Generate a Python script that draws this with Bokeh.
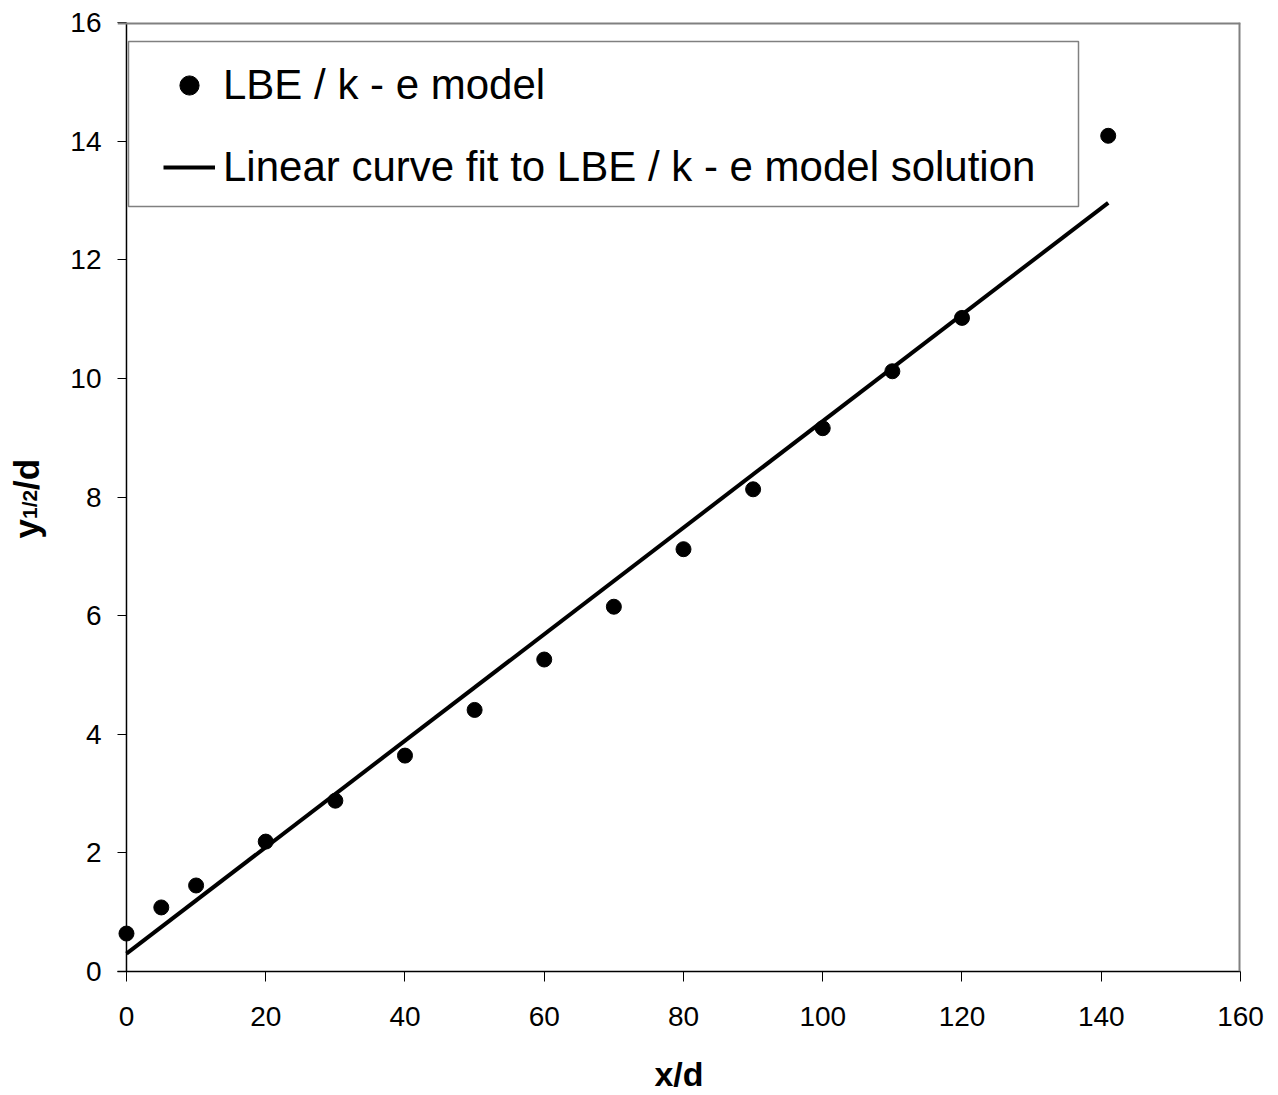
from math import pi
from bokeh.plotting import figure
from bokeh.layouts import row
from bokeh.models import (Range1d, FixedTicker, Legend, LegendItem, Label,
                          BoxAnnotation, Span)
from bokeh.embed import file_html
from bokeh.resources import INLINE

# ---- data ----
x_d = [0, 5, 10, 20, 30, 40, 50, 60, 70, 80, 90, 100, 110, 120, 141]
y_half = [0.64, 1.08, 1.45, 2.19, 2.88, 3.64, 4.41, 5.26, 6.15,
          7.12, 8.13, 9.16, 10.12, 11.02, 14.09]
fit_x = [0, 141]
fit_y = [0.30, 12.96]
x_ticks = [0, 20, 40, 60, 80, 100, 120, 140, 160]
y_ticks = [0, 2, 4, 6, 8, 10, 12, 14, 16]
legend_labels = ["LBE / k - e model",
                 "Linear curve fit to LBE / k - e model solution"]
ylabel_parts = ["y", "1/2", "/d"]

FONT = "Liberation Sans"
LW = 60        # width of the strip holding the y-axis title
H = 1095

# ---------- strip with the rotated y-axis title (y with subscript 1/2) ----
lab = figure(width=LW, height=H, output_backend="svg", toolbar_location=None,
             x_axis_type=None, y_axis_type=None, min_border=0,
             x_range=Range1d(0, 1), y_range=Range1d(0, 1))
lab.outline_line_color = None
lab.xgrid.visible = False
lab.ygrid.visible = False
piece_style = [("35px", 26, 433), ("21px", 29, 452.5), ("35px", 26, 481.5)]
for txt, (size, sx, sy) in zip(ylabel_parts, piece_style):
    lab.add_layout(Label(x=sx, y=sy, x_units="screen", y_units="screen",
                         text=txt, angle=pi / 2, text_font=FONT,
                         text_font_size=size, text_font_style="bold",
                         text_color="black", text_align="left",
                         text_baseline="alphabetic"))

# ---------- main chart ----------
DX = 9  # plot area starts a little left of x = 0 so the first marker is whole
p = figure(width=1278 - LW, height=H, output_backend="svg",
           toolbar_location=None,
           x_range=Range1d(-1.29, 160), y_range=Range1d(0, 16),
           min_border_left=117 - LW, min_border_right=38,
           min_border_top=22, min_border_bottom=122)

p.background_fill_color = "white"
p.border_fill_color = "white"
p.outline_line_color = None
p.xgrid.visible = False
p.ygrid.visible = False

for ax in (p.xaxis[0], p.yaxis[0]):
    ax.major_tick_line_color = "black"
    ax.major_tick_line_width = 1
    ax.minor_tick_line_color = None
    ax.major_label_text_font = FONT
    ax.major_label_text_font_size = "28px"
    ax.major_label_text_color = "black"

p.xaxis.axis_line_color = "black"
p.xaxis.axis_line_width = 1.5
p.xaxis.major_tick_in = 0
p.xaxis.major_tick_out = 10
p.xaxis.ticker = FixedTicker(ticks=x_ticks)
p.xaxis.major_label_standoff = 25
p.xaxis.axis_label = "x/d"
p.xaxis.axis_label_text_font = FONT
p.xaxis.axis_label_text_font_size = "34px"
p.xaxis.axis_label_text_font_style = "bold"
p.xaxis.axis_label_text_color = "black"
p.xaxis.axis_label_standoff = 26

# y axis sits at the plot-area edge; its ticks reach in to x = 0
p.yaxis.axis_line_color = None
p.yaxis.major_tick_in = DX
p.yaxis.major_tick_out = 0
p.yaxis.ticker = FixedTicker(ticks=y_ticks)
p.yaxis.major_label_standoff = 16

# axis line at x = 0, gray top / right border of plot area
p.add_layout(Span(location=0, dimension="height", line_color="black",
                  line_width=1.5))
p.add_layout(Span(location=16, dimension="width", line_color="#808080",
                  line_width=4))
p.add_layout(Span(location=160, dimension="height", line_color="#808080",
                  line_width=4))

line_r = p.line(fit_x, fit_y, line_color="black", line_width=4)
pts_r = p.scatter(x_d, y_half, size=15, marker="circle",
                  fill_color="black", line_color="black")

# legend frame
p.add_layout(BoxAnnotation(left=2 + DX, right=952 + DX, top=930, bottom=765,
                           left_units="screen", right_units="screen",
                           top_units="screen", bottom_units="screen",
                           fill_alpha=0, line_color="#808080", line_alpha=1,
                           line_width=1.5, level="overlay"))

legend = Legend(items=[LegendItem(label=legend_labels[0], renderers=[pts_r]),
                       LegendItem(label=legend_labels[1], renderers=[line_r])],
                location=(27 + DX, 770), orientation="vertical",
                label_text_font=FONT, label_text_font_size="42px",
                label_text_color="black", label_standoff=8,
                glyph_width=52, glyph_height=48, label_height=48,
                spacing=34, padding=10, margin=0,
                border_line_alpha=0, background_fill_alpha=0)
p.add_layout(legend, "center")

open("out.html", "w").write(file_html(row(lab, p), INLINE))
